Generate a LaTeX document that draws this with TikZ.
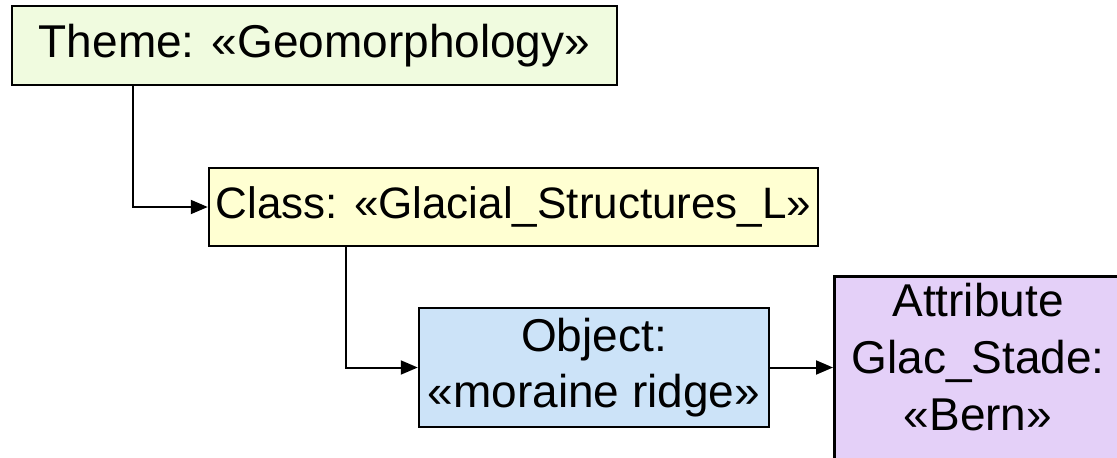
\documentclass[tikz,border=0pt]{standalone}
\usepackage{fontspec}
\setmainfont{Liberation Sans}
\usetikzlibrary{arrows.meta,calc}
\definecolor{themefill}{HTML}{F0FBDF}
\definecolor{classfill}{HTML}{FFFFD2}
\definecolor{objfill}{HTML}{CCE3F8}
\definecolor{attrfill}{HTML}{E4D0F8}
\tikzset{
  box/.style={draw=black, line width=2.5pt, inner sep=0pt, align=center,
    font=\fontsize{46}{56}\selectfont, text=black},
  link/.style={line width=2pt, -{Triangle[length=17pt,width=14pt]}}
}
\begin{document}
\begin{tikzpicture}[x=1pt,y=-1pt]
  \useasboundingbox (0,0) rectangle (1117,458);
  \clip (0,0) rectangle (1117,458);
  \fill[white] (0,0) rectangle (1117,458);
  \node[box, fill=themefill, minimum width=605pt, minimum height=79pt] (theme) at (314.5,45.5) {Theme: «Geomorphology»};
  \node[box, fill=classfill, minimum width=609pt, minimum height=78pt, font=\fontsize{44}{54}\selectfont] (class) at (513.5,207) {Class: «Glacial\_Structures\_L»};
  \node[box, fill=objfill, minimum width=350pt, minimum height=119pt] (obj) at (594,367.5) {Object:\\«moraine ridge»};
  \node[box, fill=attrfill, minimum width=300pt, minimum height=200pt, anchor=north west] (attr) at (833,275) {};
  \node[font=\fontsize{46}{57}\selectfont, align=center, anchor=north, inner sep=0pt] (attrtext) at (978,283) {Attribute\\Glac\_Stade:\\«Bern»};
  \draw[link] ($(theme.south west)+(122,0)$) |- (class.west);
  \draw[link] ($(class.south west)+(138,0)$) |- (obj.west);
  \draw[link] (obj.east) -- (attr.west |- obj.east);
\end{tikzpicture}
\end{document}
